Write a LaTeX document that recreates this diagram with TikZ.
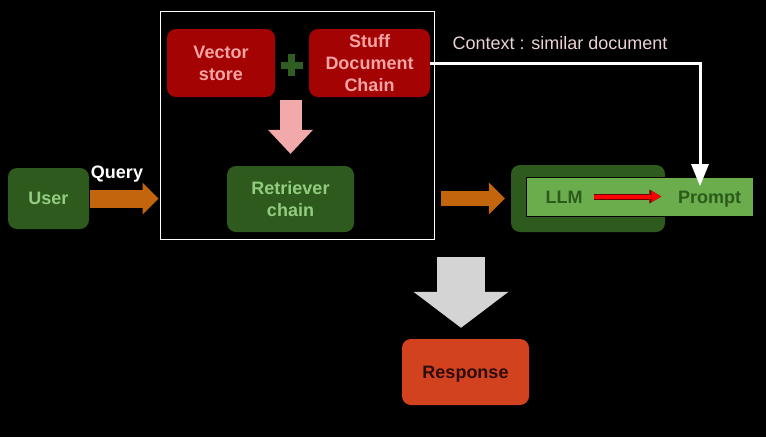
\documentclass[tikz,border=0pt]{standalone}
\usepackage{fontspec}
\setmainfont{Liberation Sans}
\usetikzlibrary{arrows.meta, positioning}

\definecolor{boxred}{HTML}{A30303}
\definecolor{pinktext}{HTML}{F5A3A3}
\definecolor{boxgreen}{HTML}{2E5B1D}
\definecolor{greentext}{HTML}{92CC7E}
\definecolor{lightgreen}{HTML}{6BAD4C}
\definecolor{darkgreentext}{HTML}{2B5A1A}
\definecolor{orangearrow}{HTML}{C2650C}
\definecolor{pinkarrow}{HTML}{F2A9A9}
\definecolor{greyarrow}{HTML}{D4D4D4}
\definecolor{respred}{HTML}{D3421F}
\definecolor{resptext}{HTML}{2E0C0C}
\definecolor{ctxtext}{HTML}{EBD3D3}
\definecolor{plusgreen}{HTML}{2F5E20}

\begin{document}
\begin{tikzpicture}[
    x=1pt, y=-1pt,
    font=\fontsize{18}{22}\selectfont,
    box/.style={rounded corners=9pt, inner sep=0pt, align=center,
        font=\fontsize{18}{22}\selectfont\bfseries},
    redbox/.style={box, fill=boxred, text=pinktext},
    greenbox/.style={box, fill=boxgreen, text=greentext},
    plainlabel/.style={inner sep=0pt},
    llmlabel/.style={plainlabel, text=darkgreentext, text height=13pt, text depth=0pt,
        font=\fontsize{18}{22}\selectfont\bfseries},
    fatarrow/.style={line width=18pt, orangearrow,
        -{Triangle[width=32pt, length=16pt, line width=0pt]}},
    mergearrow/.style={line width=22pt, pinkarrow,
        -{Triangle[width=45pt, length=24pt, line width=0pt]}},
    outarrow/.style={line width=48pt, greyarrow,
        -{Triangle[width=95pt, length=36pt, line width=0pt]}},
    ctxarrow/.style={line width=3pt, white,
        -{Triangle[width=18pt, length=22pt, line width=0pt]}},
    redarrow/.style={line width=4pt, red,
        -{Triangle[width=11pt, length=10pt, line width=0pt]},
        preaction={draw, line width=6pt, black!60!red,
        -{Triangle[width=14pt, length=12pt, line width=0pt]}}}
]

\fill[black] (0,0) rectangle (766,437);
\useasboundingbox (0,0) rectangle (766,437);

\node[draw=white, line width=1pt, minimum width=274pt, minimum height=228pt] (frame) at (297,125) {};
\node[redbox, minimum width=108pt, minimum height=68pt] (vs) at (221,63) {Vector\\store};
\node[redbox, minimum width=121pt, minimum height=68pt] (sdc) at (369.5,63) {Stuff\\Document\\Chain};
\node[greenbox, minimum width=127pt, minimum height=66pt] (ret) at (290.5,199) {Retriever\\chain};
\node[greenbox, minimum width=81pt, minimum height=61pt] (user) at (48.5,198.5) {User};
\node[plainlabel, white, font=\fontsize{18}{22}\selectfont\bfseries] (query) at (117,174) {Query};

\node[box, fill=boxgreen, minimum width=154pt, minimum height=67pt] (llmbox) at (588,198.5) {};
\node[draw=black, fill=lightgreen, inner sep=0pt, minimum width=227pt, minimum height=39pt] (inner) at (639.5,196.5) {};
\node[llmlabel] (llm) at (564,196.5) {LLM};
\node[llmlabel] (prompt) at (709.5,196.5) {Prompt};

\node[plainlabel, text=ctxtext] (ctx) at (560,43) {Context : similar document};
\coordinate (ctxend) at (700,186);

\node[box, fill=respred, text=resptext, text height=13pt, text depth=-3pt,
    minimum width=127pt, minimum height=66pt] (resp) at (465.5,372) {Response};
\coordinate (resptop) at (461,257);

\draw[line width=7pt, plusgreen] (291.5,54) -- (291.5,76) (280.5,65) -- (302.5,65);

\draw[fatarrow, shorten <=1pt, shorten >=1pt] (user.east) -- (frame.west |- user.east);
\draw[mergearrow, shorten <=3pt, shorten >=12pt] (ret.north |- vs.south) -- (ret.north);
\draw[fatarrow, line width=15pt, shorten <=6pt, shorten >=6pt] (frame.east |- llmbox.west) -- (llmbox.west);
\draw[redarrow, shorten <=11.5pt, shorten >=16.5pt] (llm.east) -- (prompt.west);
\draw[ctxarrow] (sdc.east) -| (ctxend);
\draw[outarrow, shorten >=11pt] (resptop) -- (resptop |- resp.north);

\end{tikzpicture}
\end{document}
